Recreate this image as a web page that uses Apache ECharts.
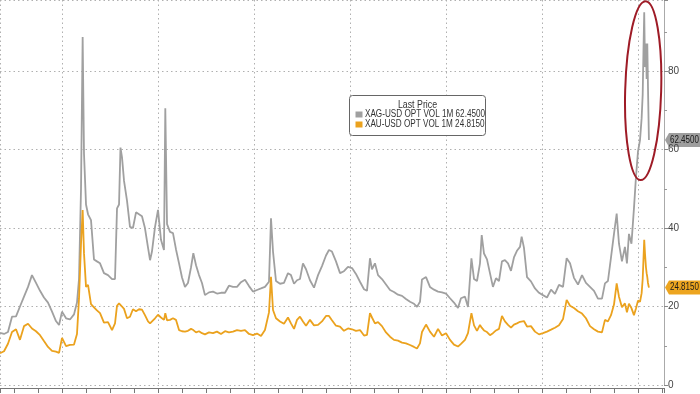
<!DOCTYPE html>
<html>
<head>
<meta charset="utf-8">
<script src="https://cdn.jsdelivr.net/npm/echarts@6/dist/echarts.min.js"></script>
<style>
html,body{margin:0;padding:0;background:#fff;}
#chart{width:700px;height:394px;}
</style>
</head>
<body>
<div id="chart"></div>
<script>
// Dates as decimal years
const dates = [
2019.350,2019.392,2019.433,2019.475,2019.517,2019.558,2019.600,2019.642,2019.683,2019.725,
2019.767,2019.808,2019.850,2019.892,2019.933,2019.965,2019.996,2020.038,2020.079,2020.121,
2020.152,2020.173,2020.194,2020.211,2020.225,2020.246,2020.267,2020.298,2020.329,2020.360,
2020.392,2020.433,2020.475,2020.517,2020.548,2020.569,2020.590,2020.605,2020.621,2020.642,
2020.673,2020.704,2020.735,2020.767,2020.798,2020.829,2020.860,2020.892,2020.913,2020.933,
2020.965,2020.996,2021.027,2021.058,2021.072,2021.090,2021.121,2021.152,2021.183,2021.215,
2021.246,2021.277,2021.308,2021.340,2021.364,2021.392,2021.423,2021.454,2021.485,2021.527,
2021.569,2021.610,2021.652,2021.694,2021.735,2021.777,2021.819,2021.860,2021.902,2021.944,
2021.985,2022.027,2022.069,2022.110,2022.152,2022.173,2022.194,2022.225,2022.267,2022.308,
2022.350,2022.381,2022.413,2022.444,2022.475,2022.506,2022.538,2022.579,2022.621,2022.663,
2022.704,2022.746,2022.777,2022.808,2022.850,2022.892,2022.933,2022.975,2023.017,2023.058,
2023.100,2023.142,2023.173,2023.204,2023.225,2023.256,2023.288,2023.329,2023.371,2023.413,
2023.454,2023.496,2023.538,2023.579,2023.621,2023.663,2023.694,2023.725,2023.746,2023.788,
2023.829,2023.871,2023.913,2023.954,2023.996,2024.038,2024.079,2024.121,2024.152,2024.194,
2024.225,2024.261,2024.288,2024.319,2024.350,2024.368,2024.392,2024.423,2024.454,2024.485,
2024.517,2024.548,2024.579,2024.610,2024.642,2024.673,2024.704,2024.735,2024.767,2024.784,
2024.808,2024.840,2024.881,2024.923,2024.965,2025.006,2025.048,2025.090,2025.131,2025.173,
2025.215,2025.253,2025.288,2025.329,2025.371,2025.413,2025.454,2025.496,2025.538,2025.579,
2025.621,2025.652,2025.683,2025.715,2025.746,2025.774,2025.798,2025.829,2025.860,2025.881,
2025.902,2025.928,2025.954,2025.975,2025.996,2026.017,2026.034,2026.045,2026.053,2026.061,
2026.069,2026.079,2026.086,2026.093,2026.100,2026.110
];

// XAG-USD OPT VOL 1M
const xag = [
13.3,13,13.5,17.4,17.5,20,22.5,25,28,26,
24,22.3,21,18.7,16.3,15.3,18.7,17,16.7,18,
21,27,50,88.7,59,46,43.5,42,32,31.5,
31,28.5,28,27,27,45,46,60.5,58,52,
47,40.3,40,44,43.5,43,40,35,31.8,34,
40.3,44.6,37,34.4,70.5,41,39,38.7,34.6,31,
27.4,25,26,30,33.6,30.5,28,26,22.9,23.6,
23.8,23.3,23.5,23.5,25.3,25,25,26.2,26.8,25.2,
23.8,24.2,24.6,25,26.3,42.5,34,26.5,25.8,26,
28.5,28,25.8,26.7,27,31,29.5,26.7,24.8,28,
30.3,33,34.4,34,31.5,28.5,29,30.1,29.8,28.3,
26.3,24.4,24,32.3,29.5,31,28,27,25.6,24.2,
23.7,23,22.7,21.9,21.2,20.7,19.9,21.2,26.9,27.5,
25,24.3,23.8,23.6,23.3,22.1,21,19.6,22.1,22.5,
19.9,32.3,27,26.5,31,38.2,33.5,32,28.5,25,
27.2,26.5,31.5,31.8,31,29.1,32.5,34.2,35.2,37.8,
35,27.5,26.4,24.6,23.5,22.9,22.3,24.3,23.2,25.5,
25,32.3,31,27.3,25.6,28,26,25,24,22,
22,25.9,26.5,32.5,38.5,43.7,36,31.5,35.2,31,
38.5,36,45,53,59.5,62.4,68,74,85,95,
81,87,78,87,76,62.45
];

// XAU-USD OPT VOL 1M
const xau = [
8.1,8.6,10.5,13.5,14.2,11.5,15,15.6,14.4,13.7,
12.7,11.2,9.7,8.7,8.5,8.2,12,9.9,10.2,10.3,
13,22,36,44.6,33.6,25,25.5,20.6,19.8,19,
18.3,15.9,16,14,15.7,20.2,20.8,20.3,20,19.4,
17,17.4,19.3,18.8,19.3,19.2,17.8,16.2,15.7,16.2,
17,17.9,17.2,16.6,18.3,16.5,16.6,17,16.6,14,
13.7,13.6,13.8,14.3,14,13.4,13.7,13.2,12.9,13.4,
13.2,13.6,13,13.7,13.4,13.6,14,13.8,14,13,
12.7,13.1,12.5,14,18.5,27.6,19.1,17,16.2,15.6,
17.2,15.7,14.3,16.6,17.4,16.2,15.1,16.6,15.2,15.3,
16.2,17.6,17.6,16.5,15.1,14.9,13.8,14.4,14.2,13.8,
14,12.6,12.8,18.3,17.2,15.7,16,15,13.4,12.3,
11.5,11.3,10.8,10.6,10.2,9.7,9.3,10.6,13.5,15.4,
13.6,12.3,14.3,12.6,13.2,11.5,10.3,9.8,10.5,11.5,
13.2,18.3,15.2,13.8,15.3,14.6,13.9,13.5,12.7,13.2,
13.9,14.3,17.6,16.2,15.3,14.6,15.4,15.7,16.1,16.4,
16.3,14.9,15,13.6,12.9,13.2,13.6,14.1,14.6,15.2,
16.8,21.7,20.2,19.6,18.8,18.2,17,15,14.2,13.6,
13.4,16.6,16.2,17.8,20.5,25.9,22.5,19.8,20.8,18.5,
20.7,19.6,17.8,19.5,21.5,21.2,23.4,27,32,37,
33.5,30,28.5,27.5,26,24.815
];

const seriesNames = ['XAG-USD OPT VOL 1M', 'XAU-USD OPT VOL 1M'];
const legendTitle = 'Last Price';
const yTicks = [0, 20, 40, 60, 80];
const xRange = [2019.35, 2026.267];
const yRange = [0, 98.1];

const GREY = '#a0a0a0';
const GOLD = '#eba21e';
const TAG_GREY = '#9e9e9e';
const TAG_GOLD = '#eda51f';
const FONT = '"Liberation Sans", Arial, sans-serif';

const lastXag = xag[xag.length - 1];
const lastXau = xau[xau.length - 1];

function pairs(vals) { return vals.map((v, i) => [dates[i], v]); }

const chart = echarts.init(document.getElementById('chart'), null, {renderer: 'canvas'});

const option = {
  animation: false,
  backgroundColor: '#fff',
  grid: {left: 0, right: 36, top: 0, bottom: 9, containLabel: false},
  xAxis: {
    type: 'value', min: xRange[0], max: xRange[1], splitNumber: 7,
    position: 'bottom', offset: 3,
    axisLine: {show: true, onZero: false, lineStyle: {color: '#777', width: 1}},
    axisTick: {show: true, length: 5, lineStyle: {color: '#777'}},
    minorTick: {show: true, splitNumber: 4, length: 5, lineStyle: {color: '#777'}},
    axisLabel: {show: false},
    splitLine: {show: true, lineStyle: {color: '#b0b0b0', type: [1.5, 3], width: 1}}
  },
  yAxis: {
    type: 'value', position: 'right', min: yRange[0], max: yRange[1], splitNumber: 5,
    axisLine: {show: true, lineStyle: {color: '#aaa'}},
    axisTick: {show: true, length: 4, lineStyle: {color: '#888'}},
    minorTick: {show: true, splitNumber: 2, length: 3, lineStyle: {color: '#999'}},
    axisLabel: {
      color: '#444', fontSize: 10, fontFamily: FONT, margin: 4,
      showMaxLabel: false,
      formatter: v => yTicks.includes(v) ? String(v) : ''
    },
    splitLine: {show: true, lineStyle: {color: '#b0b0b0', type: [1.5, 3], width: 1}}
  },
  series: [
    {
      name: seriesNames[0], type: 'line', data: pairs(xag),
      showSymbol: false, symbol: 'none',
      lineStyle: {color: GREY, width: 1.8}, itemStyle: {color: GREY}, z: 3
    },
    {
      name: seriesNames[1], type: 'line', data: pairs(xau),
      showSymbol: false, symbol: 'none',
      lineStyle: {color: GOLD, width: 1.8}, itemStyle: {color: GOLD}, z: 4
    }
  ]
};
chart.setOption(option);

// Positions derived from the chart's own scales
const toPx = p => chart.convertToPixel({gridIndex: 0}, p);
const rightEdge = toPx([xRange[1], 0])[0];

function valueTag(val, bg) {
  const y = toPx([xRange[1], val])[1];
  const x0 = rightEdge + 1;
  return {
    type: 'group', z: 20,
    children: [
      {type: 'polygon', shape: {points: [[x0, y], [x0 + 4, y - 7], [700, y - 7], [700, y + 7], [x0 + 4, y + 7]]},
       style: {fill: bg}},
      {type: 'text', x: x0 + 5, y: y, scaleX: 0.8,
       style: {text: val.toFixed(4), fontSize: 10, fontFamily: FONT, fill: '#1a1a1a', textVerticalAlign: 'middle', textAlign: 'left'}}
    ]
  };
}

// Annotation ellipse around the recent spike
const ringCenter = [2026.05, 75];
const ringRadius = [0.1875, 22.8];
const c = toPx(ringCenter);
const ex = toPx([ringCenter[0] + ringRadius[0], ringCenter[1] + ringRadius[1]]);
const rx = Math.abs(ex[0] - c[0]);
const ry = Math.abs(ex[1] - c[1]);

const legendItems = [[seriesNames[0], lastXag, GREY], [seriesNames[1], lastXau, GOLD]];
const legendChildren = [
  {type: 'rect', shape: {x: 349.5, y: 95.5, width: 136, height: 40, r: 3},
   style: {fill: '#fff', stroke: '#666', lineWidth: 1}},
  {type: 'text', x: 417.5, y: 105.5, scaleX: 0.88,
   style: {text: legendTitle, fontSize: 10, fontFamily: FONT, fill: '#333', textAlign: 'center', textVerticalAlign: 'middle'}}
];
legendItems.forEach((it, i) => {
  const yy = 114.5 + i * 10;
  legendChildren.push({type: 'rect', shape: {x: 355.5, y: yy - 3, width: 7, height: 6}, style: {fill: it[2]}});
  legendChildren.push({type: 'text', x: 365, y: yy, scaleX: 0.815,
    style: {text: it[0] + ' ' + it[1].toFixed(4), fontSize: 10, fontFamily: FONT, fill: '#333', textAlign: 'left', textVerticalAlign: 'middle'}});
});

chart.setOption({
  graphic: [
    {type: 'group', z: 15, children: legendChildren},
    valueTag(lastXag, TAG_GREY),
    valueTag(lastXau, TAG_GOLD),
    {
      type: 'ellipse', z: 12, x: c[0], y: c[1], rotation: -0.028,
      shape: {cx: 0, cy: 0, rx: rx, ry: ry},
      style: {fill: 'none', stroke: '#9e1b26', lineWidth: 2}
    }
  ]
});
</script>
</body>
</html>
